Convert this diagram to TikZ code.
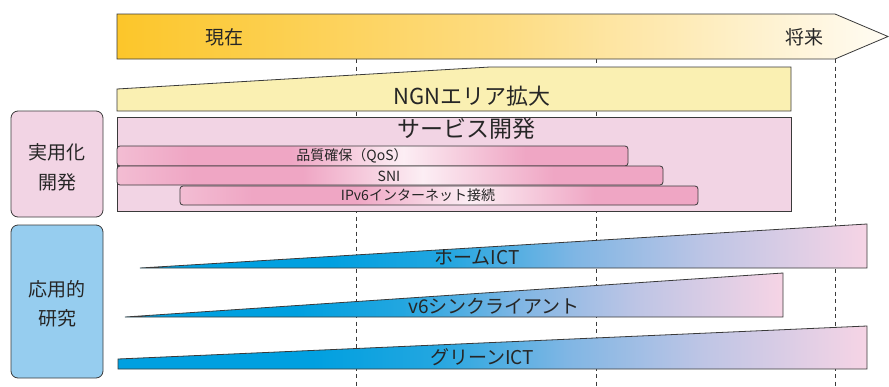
\documentclass[tikz,border=0pt]{standalone}
\usepackage{fontspec}
\setmainfont{Noto Sans CJK JP}
\definecolor{edge}{HTML}{3A3A3A}
\definecolor{txt}{HTML}{262626}
\definecolor{goldA}{HTML}{FCC62A}
\definecolor{goldM}{HTML}{FDDC82}
\definecolor{goldB}{HTML}{FFFCF4}
\definecolor{ngnfill}{HTML}{FAF0B2}
\definecolor{svcfill}{HTML}{F2D4E4}
\definecolor{pinkA}{HTML}{F3BDD3}
\definecolor{pinkB}{HTML}{EFA6C4}
\definecolor{pinkW}{HTML}{FCEEF4}
\definecolor{labpink}{HTML}{F2D4E4}
\definecolor{labblue}{HTML}{96CDEF}
\definecolor{blueA}{HTML}{00A0E0}
\definecolor{blueB}{HTML}{22A6E0}
\definecolor{blueC}{HTML}{80B6E4}
\definecolor{blueD}{HTML}{BEC5E5}
\definecolor{blueE}{HTML}{F6D4E5}
\pgfdeclarehorizontalshading{goldsh}{100bp}{color(0bp)=(goldA); color(25bp)=(goldA); color(50bp)=(goldM); color(75bp)=(goldB); color(100bp)=(goldB)}
\pgfdeclarehorizontalshading{barsh}{100bp}{color(0bp)=(pinkA); color(25bp)=(pinkA); color(32bp)=(pinkB); color(42bp)=(pinkB); color(53bp)=(pinkW); color(65bp)=(pinkB); color(75bp)=(pinkB); color(100bp)=(pinkB)}
\pgfdeclarehorizontalshading{wedgesh}{100bp}{color(0bp)=(blueA); color(25bp)=(blueA); color(38bp)=(blueA); color(46bp)=(blueB); color(55bp)=(blueC); color(64bp)=(blueD); color(75bp)=(blueE); color(100bp)=(blueE)}
\tikzset{
  outline/.style={draw=edge, line width=0.8pt, line join=miter},
  guide/.style={draw=edge, line width=0.7pt, dash pattern=on 4pt off 3.5pt},
  lab/.style={text=txt, inner sep=0pt, font=\fontsize{19pt}{22pt}\selectfont},
  bigtxt/.style={text=txt, inner sep=0pt, font=\fontsize{22pt}{24pt}\selectfont},
  bartxt/.style={text=txt, inner sep=0pt, font=\fontsize{14pt}{16pt}\selectfont},
  wtxt/.style={text=txt, inner sep=0pt, font=\fontsize{19pt}{21pt}\selectfont},
  sidebox/.style={outline, rounded corners=7pt},
  pbar/.style={outline, rounded corners=3pt, shading=barsh},
  wedge/.style={outline, shading=wedgesh}
}
\begin{document}
\begin{tikzpicture}[x=1pt,y=-1pt]
\useasboundingbox (0,0) rectangle (889,386);
% guide lines
\coordinate (g1t) at (356,59); \coordinate (g1b) at (356,386);
\coordinate (g2t) at (596,59); \coordinate (g2b) at (596,386);
\coordinate (g3t) at (835,59); \coordinate (g3b) at (835,386);
\draw[guide] (g1t) -- (g1b);
\draw[guide] (g2t) -- (g2b);
\draw[guide] (g3t) -- (g3b);
% timeline arrow
\shade[shading=goldsh, outline] (117,14) -- (835,14) -- (888,36.5) -- (835,59) -- (117,59) -- cycle;
\node[lab] (now) at (224,37) {現在};
\node[lab] (future) at (804,37) {将来};
% NGN
\filldraw[outline, fill=ngnfill] (117,89) -- (490,67) -- (791,67) -- (791,111) -- (117,111) -- cycle;
\node[bigtxt] (ngn) at (472,96) {NGNエリア拡大};
% service development
\filldraw[outline, fill=svcfill] (117,117) rectangle (791,211);
\node[bigtxt, font=\fontsize{23pt}{25pt}\selectfont] (svc) at (466,129) {サービス開発};
\shade[pbar] (117,146) rectangle (628,166);
\node[bartxt] (qos) at (352,156) {品質確保（QoS）};
\shade[pbar] (117,166) rectangle (663,185);
\node[bartxt] (sni) at (389,176) {SNI};
\shade[pbar] (180,186) rectangle (698,205);
\node[bartxt] (ipv6) at (418,195) {IPv6インターネット接続};
% side labels
\filldraw[sidebox, fill=labpink] (11,111) rectangle (103,217);
\node[lab] (jitsu1) at (57,152) {実用化};
\node[lab] (jitsu2) at (57,182) {開発};
\filldraw[sidebox, fill=labblue] (11,225) rectangle (103,378);
\node[lab] (oyo1) at (57,289) {応用的};
\node[lab] (oyo2) at (57,318) {研究};
% wedges
\shade[wedge] (140,268) -- (867,224) -- (867,268) -- cycle;
\node[wtxt] (home) at (477,257) {ホームICT};
\shade[wedge] (125,317) -- (783,273) -- (783,317) -- cycle;
\node[wtxt] (v6) at (494,306) {v6シンクライアント};
\shade[wedge] (118,359) -- (867,326) -- (867,369) -- (118,369) -- cycle;
\node[wtxt] (green) at (482,357) {グリーンICT};
\end{tikzpicture}
\end{document}
